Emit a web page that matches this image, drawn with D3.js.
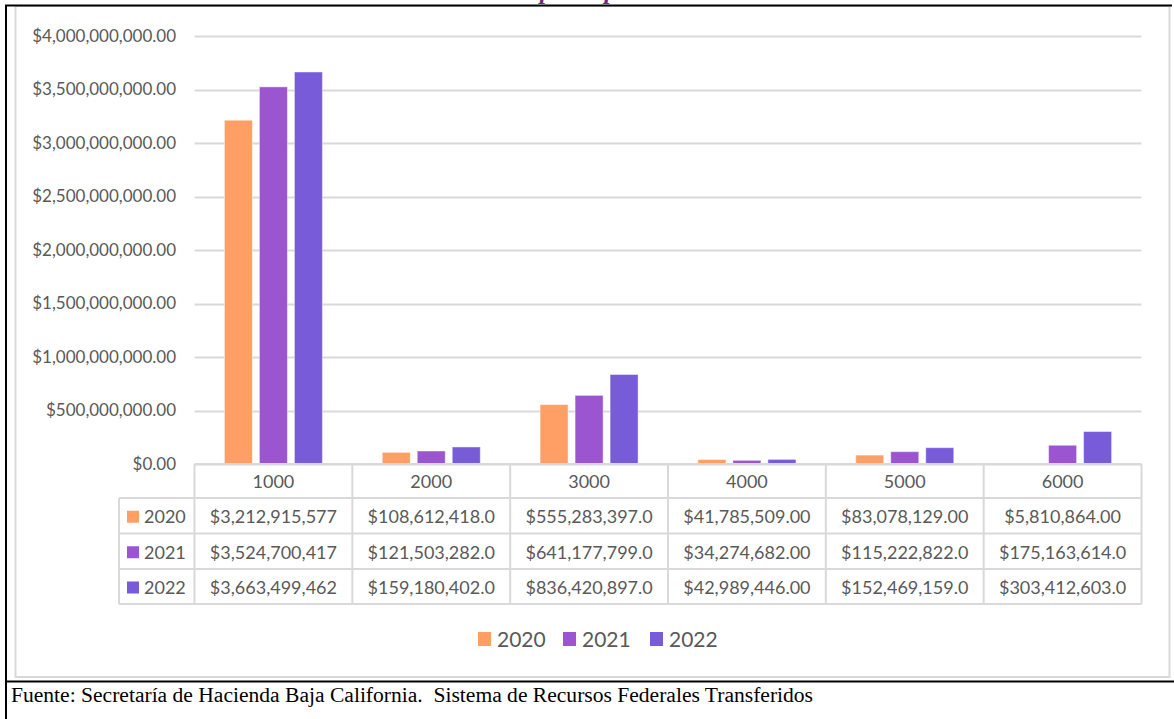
<!DOCTYPE html>
<html><head><meta charset="utf-8">
<script src="https://cdn.jsdelivr.net/npm/d3@7"></script>
<style>html,body{margin:0;padding:0;background:#fff;}svg{display:block;}</style>
</head><body>
<svg id="c" width="1174" height="719"></svg>
<script>
const categories = ["1000","2000","3000","4000","5000","6000"];
const seriesNames = ["2020","2021","2022"];
const values2020 = [3212915577, 108612418, 555283397, 41785509, 83078129, 5810864];
const values2021 = [3524700417, 121503282, 641177799, 34274682, 115222822, 175163614];
const values2022 = [3663499462, 159180402, 836420897, 42989446, 152469159, 303412603];
const yTicks = [0, 500000000, 1000000000, 1500000000, 2000000000, 2500000000, 3000000000, 3500000000, 4000000000];
const colors = ["#FF9F66", "#9B55D1", "#775BD9"];
const sourceText = "Fuente: Secretaría de Hacienda Baja California.  Sistema de Recursos Federales Transferidos";
const titleText = "por capítulo";

const seriesValues = [values2020, values2021, values2022];
const svg = d3.select("#c");
const txt = "#595959", grid = "#D9D9D9";
const font = "Lato, 'Open Sans', sans-serif";

svg.append("rect").attr("width",1174).attr("height",719).attr("fill","#fff");

// cut-off title (only descenders visible, as in the reference)
svg.append("text").attr("x",540).attr("y",-1).attr("font-family","'Liberation Serif', serif")
  .attr("font-style","italic").attr("font-weight","bold").attr("font-size",25).attr("fill","#6F2C73").text(titleText);

// chart area border
svg.append("rect").attr("x",15.5).attr("y",6).attr("width",1154).attr("height",671)
  .attr("fill","none").attr("stroke",grid).attr("stroke-width",2);

// outer black frame lines
svg.append("line").attr("x1",5).attr("x2",1172).attr("y1",5.5).attr("y2",5.5).attr("stroke","#000").attr("stroke-width",2);
svg.append("line").attr("x1",6).attr("x2",6).attr("y1",5).attr("y2",719).attr("stroke","#000").attr("stroke-width",2);
svg.append("line").attr("x1",5).attr("x2",1174).attr("y1",681.5).attr("y2",681.5).attr("stroke","#000").attr("stroke-width",2);

const plotL = 194.5, plotR = 1141.5, plotT = 36, plotB = 464;
const x = d3.scaleBand().domain(categories).range([plotL, plotR]).paddingInner(0).paddingOuter(0);
const xs = d3.scaleBand().domain(seriesNames).range([0, x.bandwidth()]).paddingInner(0.2).paddingOuter(0.854);
const y = d3.scaleLinear().domain([0, 4000000000]).range([plotB, plotT]);

// gridlines
svg.append("g").selectAll("line").data(yTicks).join("line")
  .attr("x1",plotL).attr("x2",plotR).attr("y1",d=>Math.round(y(d))+0.5).attr("y2",d=>Math.round(y(d))+0.5)
  .attr("stroke",grid).attr("stroke-width",2);

// y axis labels
const fmt = d3.format("$,.2f");
const yAxis = d3.axisLeft(y).tickValues(yTicks).tickFormat(fmt).tickSize(0).tickPadding(0);
const ga = svg.append("g").attr("transform","translate(176,0)").call(yAxis);
ga.select(".domain").remove();
ga.selectAll("text").attr("font-family",font).attr("font-size",17).attr("fill",txt).attr("dy","0.32em");

// bars
const bars = svg.append("g");
seriesNames.forEach((s,i)=>{
  bars.append("g").selectAll("rect").data(categories.map((c,j)=>({c, v: seriesValues[i][j]}))).join("rect")
    .attr("x", d=>x(d.c)+xs(s)).attr("width", xs.bandwidth())
    .attr("y", d=>y(d.v)).attr("height", d=>plotB - y(d.v))
    .attr("fill", colors[i]).attr("stroke","rgba(255,255,255,0.45)").attr("stroke-width",1);
});

// data table
const rowEdges = [464, 498, 533.5, 569, 604];
const legL = 119;
const tbl = svg.append("g");
const lineAttr = sel => sel.attr("stroke",grid).attr("stroke-width",2).attr("fill","none");
tbl.append("line").attr("x1",plotL).attr("x2",plotR).attr("y1",rowEdges[0]).attr("y2",rowEdges[0]).call(lineAttr);
for (let k=1;k<rowEdges.length;k++)
  tbl.append("line").attr("x1",legL).attr("x2",plotR).attr("y1",rowEdges[k]).attr("y2",rowEdges[k]).call(lineAttr);
tbl.append("line").attr("x1",legL).attr("x2",legL).attr("y1",rowEdges[1]).attr("y2",rowEdges[4]).call(lineAttr);
const vx = categories.map(c=>x(c)).concat([plotR]);
vx.forEach(v=> tbl.append("line").attr("x1",v).attr("x2",v).attr("y1",rowEdges[0]).attr("y2",rowEdges[4]).call(lineAttr));
tbl.selectAll("text.h").data(categories).join("text").attr("class","h")
  .attr("x",c=>x(c)+x.bandwidth()/2).attr("y",(rowEdges[0]+rowEdges[1])/2+1).attr("dy","0.35em")
  .attr("text-anchor","middle").attr("font-family",font).attr("font-size",18).attr("fill",txt).text(c=>c);
const cellFmt = v => fmt(v).slice(0,14);
seriesNames.forEach((s,i)=>{
  const cy = (rowEdges[i+1]+rowEdges[i+2])/2 + 1;
  tbl.append("rect").attr("x",127).attr("y",cy-6).attr("width",12).attr("height",12).attr("fill",colors[i]);
  tbl.append("text").attr("x",144).attr("y",cy).attr("dy","0.35em").attr("font-family",font).attr("font-size",18).attr("fill",txt).text(s);
  tbl.append("g").selectAll("text").data(categories.map((c,j)=>({c,v:seriesValues[i][j]}))).join("text")
    .attr("x",d=>x(d.c)+x.bandwidth()/2).attr("y",cy).attr("dy","0.35em").attr("text-anchor","middle")
    .attr("font-family",font).attr("font-size",18).attr("fill",txt).text(d=>cellFmt(d.v));
});

// legend
const legX = [478, 563, 650];
const lg = svg.append("g");
seriesNames.forEach((s,i)=>{
  lg.append("rect").attr("x",legX[i]).attr("y",632).attr("width",13).attr("height",14).attr("fill",colors[i]);
  lg.append("text").attr("x",legX[i]+19).attr("y",639.5).attr("dy","0.35em").attr("font-family",font)
    .attr("font-size",21).attr("fill",txt).text(s);
});

// source
svg.append("text").attr("x",11).attr("y",702).attr("font-family","'Liberation Serif', 'Times New Roman', serif")
  .attr("font-size",20).attr("fill","#000").style("white-space","pre")
  .attr("textLength",802).attr("lengthAdjust","spacingAndGlyphs").text(sourceText);
</script>
</body></html>
